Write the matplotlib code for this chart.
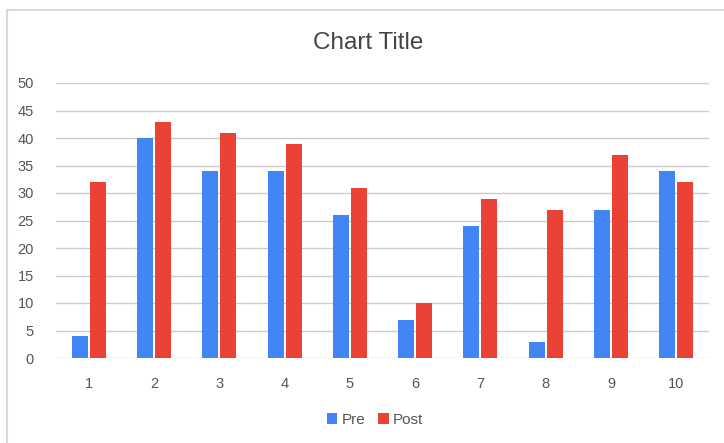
import numpy as np
import matplotlib.pyplot as plt
from matplotlib.lines import Line2D

plt.rcParams['font.family'] = ['Liberation Sans', 'DejaVu Sans']

categories = ['1', '2', '3', '4', '5', '6', '7', '8', '9', '10']
pre = [4, 40, 34, 34, 26, 7, 24, 3, 27, 34]
post = [32, 43, 41, 39, 31, 10, 29, 27, 37, 32]

fig = plt.figure(figsize=(7.24, 4.43), dpi=100)
ax = fig.add_axes([56 / 724, 85 / 443, 653 / 724, 275 / 443])

# outer frame of the screenshot (top and left edges)
fig.add_artist(Line2D([7 / 724, 1], [1 - 10 / 443, 1 - 10 / 443], color='#d9d9d9', lw=1.5))
fig.add_artist(Line2D([7 / 724, 7 / 724], [0, 1 - 10 / 443], color='#d9d9d9', lw=1.5))

x = np.arange(1, len(categories) + 1)
w = 0.245
ax.bar(x - w / 2 - 0.015, pre, w, color='#4285F4', label='Pre', zorder=3)
ax.bar(x + w / 2 + 0.015, post, w, color='#EA4335', label='Post', zorder=3)

ax.set_xlim(0.5, 10.5)
ax.set_ylim(0, 50)
ax.set_yticks(range(0, 51, 5))
ax.set_xticks(x)
ax.set_xticklabels(categories)
ax.yaxis.grid(True, color='#cccccc', lw=1)
ax.set_axisbelow(True)
for s in ax.spines.values():
    s.set_visible(False)
ax.tick_params(length=0, colors='#555555', labelsize=10.5)
ax.tick_params(axis='x', pad=14)
ax.tick_params(axis='y', pad=16)

fig.text(0.508, 1 - 43 / 443, 'Chart Title', ha='center', va='center', fontsize=17.5, color='#444444')

fig.legend(loc='center', bbox_to_anchor=(375 / 724, 1 - 420 / 443), ncol=2, frameon=False,
           handlelength=0.7, handleheight=0.7, handletextpad=0.3, columnspacing=0.8,
           fontsize=11, labelcolor='#555555')

fig.savefig('out.png', dpi=100, facecolor='white')
